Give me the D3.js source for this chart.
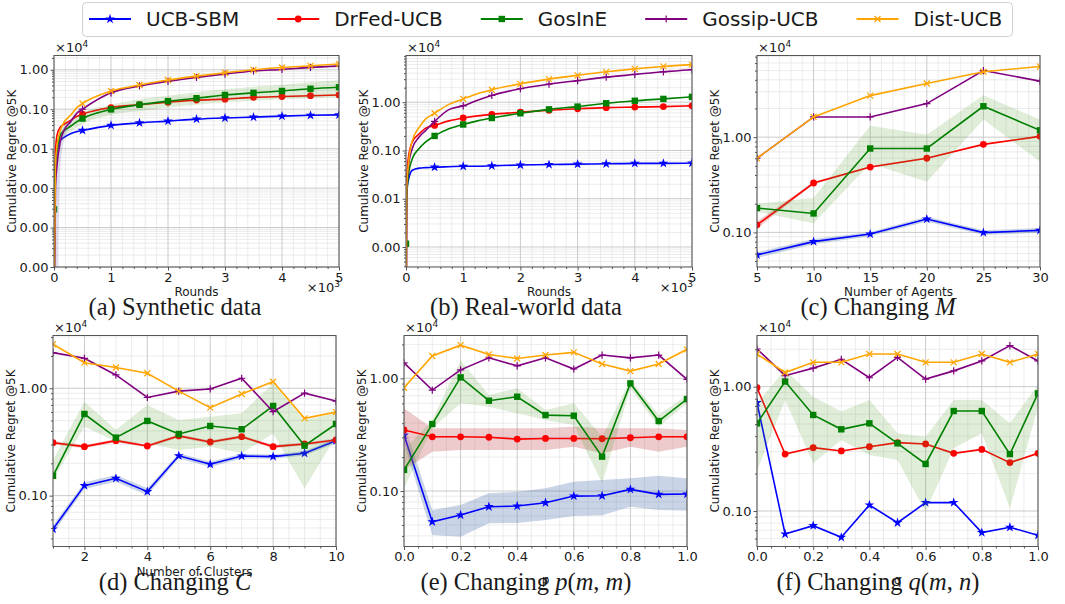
<!DOCTYPE html>
<html lang="en">
<head>
<meta charset="UTF-8" />
<title>Cumulative Regret @5K</title>
<script src="https://cdn.jsdelivr.net/npm/d3@7"></script>
<style>
  body { margin: 0; background: #fff; }
  svg text { font-family: "DejaVu Sans", sans-serif; fill: #1a1a1a; }
  .tick-label { font-size: 13px; }
  .axis-label { font-size: 12px; }
  .offset { font-size: 13px; }
  .caption { font-family: "Liberation Serif", "Times New Roman", serif; font-size: 24.5px; }
  .legend-text { font-size: 20px; }
</style>
</head>
<body>
<svg id="chart" width="1065" height="604"></svg>
<script>
// ---- data (regret in units of 1e4) ----
var methods = ["UCB-SBM", "DrFed-UCB", "GosInE", "Gossip-UCB", "Dist-UCB"];

// (a) synthetic data
var synRounds = [0, 25, 53, 110, 170, 290, 400, 500, 1000, 1500, 2000, 2500, 3000, 3500, 4000, 4500, 5000];
var synUcbSbm = [1e-6, 0.004, 0.009, 0.016, 0.019, 0.024, 0.027, 0.029, 0.039, 0.045, 0.050, 0.056, 0.060, 0.063, 0.067, 0.070, 0.072];
var synDrFed = [1e-6, 0.008, 0.022, 0.035, 0.041, 0.052, 0.066, 0.075, 0.11, 0.13, 0.15, 0.17, 0.18, 0.20, 0.21, 0.22, 0.23];
var synGosInE = [2.9e-4, 0.004, 0.0083, 0.022, 0.028, 0.037, 0.048, 0.058, 0.099, 0.13, 0.16, 0.19, 0.23, 0.26, 0.29, 0.33, 0.36];
var synGossip = [1e-6, 0.001, 0.0038, 0.015, 0.028, 0.048, 0.079, 0.10, 0.26, 0.39, 0.51, 0.64, 0.78, 0.93, 1.02, 1.15, 1.24];
var synDist = [1e-6, 0.004, 0.012, 0.029, 0.045, 0.07, 0.11, 0.14, 0.29, 0.41, 0.55, 0.69, 0.84, 1.0, 1.14, 1.26, 1.4];
var synGosInELo = [2.9e-4, 0.002, 0.005, 0.015, 0.02, 0.027, 0.035, 0.042, 0.072, 0.09, 0.11, 0.13, 0.15, 0.165, 0.18, 0.19, 0.2];
var synGosInEHi = [2.9e-4, 0.006, 0.012, 0.03, 0.038, 0.05, 0.065, 0.08, 0.13, 0.18, 0.22, 0.27, 0.32, 0.37, 0.42, 0.48, 0.54];
var synGossipLo = [1e-6, 1e-6, 1e-6, 0.003, 0.015, 0.04, 0.07, 0.095, 0.25, 0.38, 0.5, 0.62, 0.76, 0.9, 0.99, 1.11, 1.2];
var synGossipHi = [1e-6, 0.002, 0.008, 0.022, 0.035, 0.055, 0.088, 0.11, 0.27, 0.4, 0.52, 0.66, 0.8, 0.96, 1.05, 1.19, 1.28];

// (b) real-world data
var realRounds = [0, 10, 41, 110, 230, 345, 500, 750, 1000, 1250, 1500, 2000, 2500, 3000, 3500, 4000, 4500, 5000];
var realUcbSbm = [1e-6, 0.014, 0.024, 0.039, 0.043, 0.044, 0.045, 0.046, 0.047, 0.047, 0.048, 0.050, 0.051, 0.052, 0.053, 0.054, 0.054, 0.055];
var realDrFed = [1e-6, 0.02, 0.07, 0.15, 0.22, 0.29, 0.33, 0.41, 0.47, 0.52, 0.56, 0.62, 0.68, 0.73, 0.77, 0.79, 0.81, 0.84];
var realGosInE = [1.17e-3, 0.008, 0.03, 0.067, 0.11, 0.15, 0.20, 0.28, 0.345, 0.41, 0.47, 0.59, 0.71, 0.81, 0.95, 1.07, 1.17, 1.29];
var realGossip = [1e-6, 0.012, 0.045, 0.11, 0.19, 0.26, 0.40, 0.70, 0.84, 1.1, 1.38, 1.9, 2.36, 2.8, 3.3, 3.75, 4.26, 4.7];
var realDist = [1e-6, 0.015, 0.05, 0.16, 0.30, 0.45, 0.59, 0.9, 1.17, 1.5, 1.81, 2.4, 3.0, 3.6, 4.26, 4.9, 5.5, 6.0];

// (c) changing M
var agents = [5, 10, 15, 20, 25, 30];
var agentsUcbSbm = [0.058, 0.080, 0.096, 0.138, 0.0995, 0.105];
var agentsUcbSbmLo = [0.054, 0.075, 0.091, 0.13, 0.094, 0.099];
var agentsUcbSbmHi = [0.062, 0.085, 0.101, 0.146, 0.105, 0.111];
var agentsDrFed = [0.12, 0.33, 0.485, 0.60, 0.84, 1.02];
var agentsDrFedLo = [0.11, 0.32, 0.475, 0.59, 0.83, 1.0];
var agentsDrFedHi = [0.13, 0.34, 0.495, 0.61, 0.85, 1.04];
var agentsGosInE = [0.18, 0.158, 0.76, 0.76, 2.11, 1.18];
var agentsGosInELo = [0.165, 0.125, 0.53, 0.34, 1.53, 0.556];
var agentsGosInEHi = [0.20, 0.23, 1.32, 1.06, 2.75, 1.53];
var agentsGossip = [0.60, 1.63, 1.63, 2.25, 5.0, 3.87];
var agentsDist = [0.60, 1.63, 2.73, 3.66, 4.86, 5.52];

// (d) changing C
var clusters = [1, 2, 3, 4, 5, 6, 7, 8, 9, 10];
var clustersUcbSbm = [0.0489, 0.124, 0.145, 0.109, 0.235, 0.196, 0.234, 0.231, 0.248, 0.325];
var clustersUcbSbmLo = [0.045, 0.115, 0.135, 0.101, 0.222, 0.185, 0.222, 0.22, 0.236, 0.31];
var clustersUcbSbmHi = [0.053, 0.133, 0.156, 0.117, 0.248, 0.207, 0.246, 0.242, 0.26, 0.34];
var clustersDrFed = [0.311, 0.286, 0.325, 0.29, 0.36, 0.316, 0.354, 0.286, 0.303, 0.33];
var clustersDrFedLo = [0.30, 0.276, 0.314, 0.28, 0.348, 0.305, 0.342, 0.276, 0.293, 0.32];
var clustersDrFedHi = [0.322, 0.296, 0.336, 0.30, 0.372, 0.327, 0.366, 0.296, 0.313, 0.34];
var clustersGosInE = [0.153, 0.576, 0.347, 0.496, 0.375, 0.445, 0.415, 0.684, 0.292, 0.465];
var clustersGosInELo = [0.14, 0.44, 0.318, 0.307, 0.266, 0.286, 0.248, 0.38, 0.117, 0.354];
var clustersGosInEHi = [0.215, 0.75, 0.41, 0.70, 0.507, 0.544, 0.585, 1.11, 0.507, 0.585];
var clustersGossip = [2.15, 1.9, 1.33, 0.82, 0.94, 0.985, 1.24, 0.605, 0.90, 0.76];
var clustersDist = [2.57, 1.73, 1.56, 1.38, 0.94, 0.66, 0.885, 1.15, 0.525, 0.60];

// (e) changing p(m, m)
var pVals = [0, 0.1, 0.2, 0.3, 0.4, 0.5, 0.6, 0.7, 0.8, 0.9, 1.0];
var pUcbSbm = [0.314, 0.0534, 0.0613, 0.0726, 0.0736, 0.0788, 0.0902, 0.0908, 0.1035, 0.0935, 0.094];
var pUcbSbmLo = [0.265, 0.0407, 0.0393, 0.0517, 0.052, 0.0553, 0.06, 0.061, 0.0726, 0.0678, 0.067];
var pUcbSbmHi = [0.40, 0.0678, 0.075, 0.0955, 0.0986, 0.106, 0.121, 0.125, 0.13, 0.137, 0.13];
var pDrFed = [0.348, 0.303, 0.303, 0.30, 0.289, 0.293, 0.293, 0.291, 0.297, 0.303, 0.303];
var pDrFedLo = [0.154, 0.223, 0.231, 0.231, 0.231, 0.231, 0.247, 0.216, 0.247, 0.223, 0.247];
var pDrFedHi = [0.542, 0.36, 0.36, 0.36, 0.36, 0.36, 0.372, 0.36, 0.36, 0.36, 0.348];
var pGosInE = [0.154, 0.393, 1.02, 0.633, 0.687, 0.472, 0.466, 0.202, 0.902, 0.418, 0.655];
var pGosInELo = [0.106, 0.36, 0.6, 0.56, 0.489, 0.427, 0.385, 0.117, 0.815, 0.372, 0.6];
var pGosInEHi = [0.231, 0.427, 1.45, 0.71, 0.815, 0.523, 0.6, 0.303, 0.966, 0.472, 0.71];
var pGossip = [1.37, 0.787, 1.19, 1.52, 1.29, 1.52, 1.21, 1.61, 1.52, 1.61, 0.98];
var pDist = [0.826, 1.58, 1.97, 1.63, 1.50, 1.61, 1.70, 1.34, 1.16, 1.34, 1.81];

// (f) changing q(m, n)
var qVals = [0, 0.1, 0.2, 0.3, 0.4, 0.5, 0.6, 0.7, 0.8, 0.9, 1.0];
var qUcbSbm = [0.743, 0.0653, 0.0762, 0.0614, 0.1117, 0.0805, 0.1167, 0.117, 0.067, 0.074, 0.0637];
var qDrFed = [0.98, 0.287, 0.323, 0.304, 0.329, 0.355, 0.346, 0.291, 0.313, 0.245, 0.291];
var qGosInE = [0.507, 1.10, 0.592, 0.454, 0.507, 0.35, 0.239, 0.637, 0.637, 0.287, 0.883];
var qGosInELo = [0.21, 0.78, 0.242, 0.372, 0.282, 0.257, 0.0987, 0.319, 0.422, 0.105, 0.69];
var qGosInEHi = [0.74, 1.36, 0.83, 0.63, 0.78, 0.422, 0.396, 0.78, 0.78, 0.507, 1.03];
var qGossip = [2.01, 1.226, 1.41, 1.66, 1.18, 1.72, 1.15, 1.34, 1.61, 2.14, 1.61];
var qDist = [1.83, 1.30, 1.57, 1.57, 1.83, 1.83, 1.57, 1.57, 1.83, 1.57, 1.83];

// ---- styles ----
var colors = ["#0000ff", "#ff0000", "#008000", "#800080", "#ffa500"];
var bandColors = ["#4c72b0", "#c44e52", "#4c9a2a", "#8172b2", "#dd8452"];
var bandOpacity = [0.3, 0.3, 0.18, 0.25, 0.25];
var shapes = ["star", "circle", "square", "plus", "cross"];

var svg = d3.select("#chart");

function marker(g, k, cx, cy) {
  var c = colors[k];
  var s = shapes[k];
  if (s === "star") {
    g.append("path").attr("d", d3.symbol(d3.symbolStar, 30)())
      .attr("transform", "translate(" + cx + "," + cy + ")").attr("fill", c);
  } else if (s === "circle") {
    g.append("circle").attr("cx", cx).attr("cy", cy).attr("r", 3.4).attr("fill", c);
  } else if (s === "square") {
    g.append("rect").attr("x", cx - 3.2).attr("y", cy - 3.2).attr("width", 6.4).attr("height", 6.4).attr("fill", c);
  } else if (s === "plus") {
    g.append("path").attr("d", "M-3.6,0H3.6M0,-3.6V3.6")
      .attr("transform", "translate(" + cx + "," + cy + ")").attr("stroke", c).attr("stroke-width", 1.2);
  } else {
    g.append("path").attr("d", "M-3,-3L3,3M-3,3L3,-3")
      .attr("transform", "translate(" + cx + "," + cy + ")").attr("stroke", c).attr("stroke-width", 1.2);
  }
}

function drawPanel(p) {
  var x = d3.scaleLinear().domain(p.xDomain).range([p.left, p.right]);
  var y = d3.scaleLog().domain(p.yDomain).range([p.bottom, p.top]);
  var g = svg.append("g");
  var clipId = "clip-" + p.key;
  g.append("clipPath").attr("id", clipId).append("rect")
    .attr("x", p.left).attr("y", p.top)
    .attr("width", p.right - p.left).attr("height", p.bottom - p.top);

  // ticks
  var xMajor = d3.range(p.xTicks[0], p.xTicks[1] + 1e-9, p.xTicks[2]);
  var xMinor = d3.range(p.xDomain[0], p.xDomain[1] + 1e-9, p.xMinorStep)
    .filter(function (v) { return !xMajor.some(function (m) { return Math.abs(m - v) < 1e-9; }); });
  var lo = Math.log10(p.yDomain[0]), hi = Math.log10(p.yDomain[1]);
  var yMajor = d3.range(Math.ceil(lo - 1e-9), Math.floor(hi + 1e-9) + 1).map(function (e) { return Math.pow(10, e); });
  var yMinor = [];
  d3.range(Math.floor(lo), Math.ceil(hi) + 1).forEach(function (e) {
    for (var k = 2; k <= 9; k++) {
      var v = k * Math.pow(10, e);
      if (v > p.yDomain[0] && v < p.yDomain[1]) yMinor.push(v);
    }
  });

  // grid
  var grid = g.append("g");
  grid.selectAll(".gxm").data(xMinor).join("line")
    .attr("x1", x).attr("x2", x).attr("y1", p.top).attr("y2", p.bottom)
    .attr("stroke", "#e4e4e4").attr("stroke-width", 0.7);
  grid.selectAll(".gym").data(yMinor).join("line")
    .attr("x1", p.left).attr("x2", p.right).attr("y1", y).attr("y2", y)
    .attr("stroke", "#e4e4e4").attr("stroke-width", 0.7);
  grid.selectAll(".gx").data(xMajor).join("line")
    .attr("x1", x).attr("x2", x).attr("y1", p.top).attr("y2", p.bottom)
    .attr("stroke", "#c4c4c4").attr("stroke-width", 0.9);
  grid.selectAll(".gy").data(yMajor).join("line")
    .attr("x1", p.left).attr("x2", p.right).attr("y1", y).attr("y2", y)
    .attr("stroke", "#c4c4c4").attr("stroke-width", 0.9);

  // series
  var plot = g.append("g").attr("clip-path", "url(#" + clipId + ")");
  var curve = p.smooth ? d3.curveMonotoneX : d3.curveLinear;
  p.series.forEach(function (s) {
    var pts = s.y.map(function (v, i) { return { x: s.x[i], y: v, lo: s.lo ? s.lo[i] : null, hi: s.hi ? s.hi[i] : null }; });
    if (s.lo) {
      plot.append("path").datum(pts)
        .attr("d", d3.area().curve(curve).x(function (d) { return x(d.x); })
          .y0(function (d) { return y(d.lo); }).y1(function (d) { return y(d.hi); }))
        .attr("fill", bandColors[s.k]).attr("fill-opacity", bandOpacity[s.k]);
    }
    plot.append("path").datum(pts)
      .attr("d", d3.line().curve(curve).x(function (d) { return x(d.x); }).y(function (d) { return y(d.y); }))
      .attr("fill", "none").attr("stroke", colors[s.k]).attr("stroke-width", 1.6);
    pts.filter(function (d) { return p.markEvery ? d.x % p.markEvery === 0 : true; })
      .forEach(function (d) { marker(plot, s.k, x(d.x), y(d.y)); });
  });

  // frame and ticks
  var axX = d3.axisBottom(x).tickValues(xMajor).tickSize(3.5).tickPadding(2).tickFormat(p.xFormat);
  var axXm = d3.axisBottom(x).tickValues(xMinor).tickSize(2).tickFormat("");
  var axY = d3.axisLeft(y).tickValues(yMajor).tickSize(3.5).tickPadding(2).tickFormat(function (v) { return v.toFixed(2); });
  var axYm = d3.axisLeft(y).tickValues(yMinor).tickSize(2).tickFormat("");
  [[axX, "translate(0," + p.bottom + ")"], [axXm, "translate(0," + p.bottom + ")"],
   [axY, "translate(" + p.left + ",0)"], [axYm, "translate(" + p.left + ",0)"]].forEach(function (a) {
    var ag = g.append("g").attr("transform", a[1]).call(a[0]);
    ag.select(".domain").remove();
    ag.selectAll("line").attr("stroke", "#555");
    ag.selectAll("text").attr("class", "tick-label").attr("fill", "#1a1a1a")
      .style("font-family", "DejaVu Sans").style("font-size", "13px");
  });
  g.append("rect").attr("x", p.left).attr("y", p.top)
    .attr("width", p.right - p.left).attr("height", p.bottom - p.top)
    .attr("fill", "none").attr("stroke", "#555").attr("stroke-width", 1);

  // offset texts
  var o4 = g.append("text").attr("class", "offset").attr("x", p.left + 1).attr("y", p.top - 4);
  o4.append("tspan").text("\u00d710");
  o4.append("tspan").attr("dy", -5).style("font-size", "9px").text("4");
  if (p.xOffset) {
    var o3 = g.append("text").attr("class", "offset").attr("x", p.right + 1).attr("y", p.bottom + 25)
      .attr("text-anchor", "end");
    o3.append("tspan").text("\u00d710");
    o3.append("tspan").attr("dy", -5).style("font-size", "9px").text("3");
  }

  // axis labels
  g.append("text").attr("class", "axis-label").attr("text-anchor", "middle")
    .attr("x", (p.left + p.right) / 2).attr("y", p.xLabelY).text(p.xLabel);
  g.append("text").attr("class", "axis-label").attr("text-anchor", "middle")
    .attr("transform", "translate(" + (p.left - 42) + "," + (p.top + p.bottom) / 2 + ") rotate(-90)")
    .attr("dy", "0.35em").text("Cumulative Regret @5K");

  // caption
  var cap = g.append("text").attr("class", "caption").attr("text-anchor", "middle")
    .attr("x", p.capX).attr("y", p.capY);
  p.caption.forEach(function (part) {
    cap.append("tspan").style("font-style", part[1] ? "italic" : "normal").text(part[0]);
  });
}

function series(xs, ys, los, his) {
  return ys.map(function (v, k) { return { k: k, x: xs, y: v, lo: los[k], hi: his[k] }; });
}

var top1 = 55.5, bot1 = 267, top2 = 335.5, bot2 = 546.5;
var fmtK = function (v) { return String(v / 1000); };
var fmtI = function (v) { return String(v); };
var fmt1 = function (v) { return v.toFixed(1); };

drawPanel({
  key: "a", left: 54, right: 339, top: top1, bottom: bot1,
  xDomain: [0, 5000], xTicks: [0, 5000, 1000], xMinorStep: 200, xFormat: fmtK, xOffset: true,
  yDomain: [1e-5, 2.3], smooth: true, markEvery: 500,
  xLabel: "Rounds", xLabelY: 296, capX: 175, capY: 315,
  caption: [["(a) Synthetic data", false]],
  series: series(synRounds, [synUcbSbm, synDrFed, synGosInE, synGossip, synDist],
    [null, null, synGosInELo, synGossipLo, null], [null, null, synGosInEHi, synGossipHi, null])
});
drawPanel({
  key: "b", left: 406, right: 692, top: top1, bottom: bot1,
  xDomain: [0, 5000], xTicks: [0, 5000, 1000], xMinorStep: 200, xFormat: fmtK, xOffset: true,
  yDomain: [3.85e-4, 9.27], smooth: true, markEvery: 500,
  xLabel: "Rounds", xLabelY: 296, capX: 526, capY: 315,
  caption: [["(b) Real-world data", false]],
  series: series(realRounds, [realUcbSbm, realDrFed, realGosInE, realGossip, realDist],
    [null, null, null, null, null], [null, null, null, null, null])
});
drawPanel({
  key: "c", left: 757, right: 1040, top: top1, bottom: bot1,
  xDomain: [5, 30], xTicks: [5, 30, 5], xMinorStep: 1, xFormat: fmtI,
  yDomain: [0.0433, 7.2], smooth: false,
  xLabel: "Number of Agents", xLabelY: 296, capX: 878, capY: 315,
  caption: [["(c) Changing ", false], ["M", true]],
  series: series(agents, [agentsUcbSbm, agentsDrFed, agentsGosInE, agentsGossip, agentsDist],
    [agentsUcbSbmLo, agentsDrFedLo, agentsGosInELo, null, null], [agentsUcbSbmHi, agentsDrFedHi, agentsGosInEHi, null, null])
});
drawPanel({
  key: "d", left: 53, right: 336, top: top2, bottom: bot2,
  xDomain: [1, 10], xTicks: [2, 10, 2], xMinorStep: 0.5, xFormat: fmtI,
  yDomain: [0.0336, 3.1], smooth: false,
  xLabel: "Number of Clusters", xLabelY: 576, capX: 175, capY: 590,
  caption: [["(d) Changing ", false], ["C", true]],
  series: series(clusters, [clustersUcbSbm, clustersDrFed, clustersGosInE, clustersGossip, clustersDist],
    [clustersUcbSbmLo, clustersDrFedLo, clustersGosInELo, null, null], [clustersUcbSbmHi, clustersDrFedHi, clustersGosInEHi, null, null])
});
drawPanel({
  key: "e", left: 404, right: 687, top: top2, bottom: bot2,
  xDomain: [0, 1], xTicks: [0, 1, 0.2], xMinorStep: 0.05, xFormat: fmt1,
  yDomain: [0.0322, 2.4], smooth: false,
  xLabel: "p", xLabelY: 584, capX: 526, capY: 590,
  caption: [["(e) Changing ", false], ["p", true], ["(", false], ["m", true], [", ", false], ["m", true], [")", false]],
  series: series(pVals, [pUcbSbm, pDrFed, pGosInE, pGossip, pDist],
    [pUcbSbmLo, pDrFedLo, pGosInELo, null, null], [pUcbSbmHi, pDrFedHi, pGosInEHi, null, null])
});
drawPanel({
  key: "f", left: 757, right: 1038, top: top2, bottom: bot2,
  xDomain: [0, 1], xTicks: [0, 1, 0.2], xMinorStep: 0.05, xFormat: fmt1,
  yDomain: [0.0518, 2.58], smooth: false,
  xLabel: "q", xLabelY: 584, capX: 878, capY: 590,
  caption: [["(f) Changing ", false], ["q", true], ["(", false], ["m", true], [", ", false], ["n", true], [")", false]],
  series: series(qVals, [qUcbSbm, qDrFed, qGosInE, qGossip, qDist],
    [null, null, qGosInELo, null, null], [null, null, qGosInEHi, null, null])
});

// ---- legend ----
var leg = svg.append("g");
leg.append("rect").attr("x", 82.5).attr("y", 2.5).attr("width", 930).attr("height", 34).attr("rx", 4)
  .attr("fill", "#fff").attr("stroke", "#d0d0d0").attr("stroke-width", 1);
var lx = 89, ly = 19;
methods.forEach(function (m, k) {
  leg.append("line").attr("x1", lx).attr("x2", lx + 42).attr("y1", ly).attr("y2", ly)
    .attr("stroke", colors[k]).attr("stroke-width", 1.8);
  marker(leg, k, lx + 21, ly);
  var t = leg.append("text").attr("class", "legend-text").attr("x", lx + 57).attr("y", ly).attr("dy", "0.36em").text(m);
  lx = lx + 57 + t.node().getComputedTextLength() + 38;
});
</script>
</body>
</html>
